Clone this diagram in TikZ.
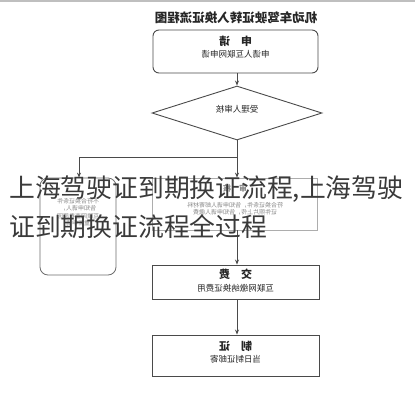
\documentclass[tikz,border=0pt]{standalone}
\usepackage{fontspec}
\newfontfamily\cjk{Noto Sans CJK SC}
\usetikzlibrary{arrows.meta,shapes.geometric}
\definecolor{linegray}{HTML}{4A4A4A}
\definecolor{fadegray}{HTML}{8A8A8A}
\definecolor{overlay}{HTML}{3A3A3A}
\begin{document}
\begin{tikzpicture}[x=1pt,y=-1pt,
  boxline/.style={draw=linegray, line width=0.9pt},
  flowbox/.style={boxline, inner sep=0pt},
  fadebox/.style={draw=fadegray!70, line width=0.8pt, inner sep=0pt},
  mtext/.style={xscale=-1, inner sep=0pt, text=black!85},
  ttl/.style={mtext, font=\cjk\fontsize{11}{12}\selectfont\bfseries},
  sub/.style={mtext, font=\cjk\fontsize{8.5}{10}\selectfont},
  faint/.style={mtext, text=fadegray, font=\cjk\fontsize{6}{7.5}\selectfont, align=center},
  conn/.style={draw=linegray, line width=0.8pt},
  arr/.style={conn, -{Stealth[length=5pt,width=4pt]}},
  big/.style={inner sep=0pt, anchor=west, text=overlay, font=\cjk\fontsize{25.8}{30}\selectfont}
]
\useasboundingbox (0,0) rectangle (415,400);
\fill[white] (0,0) rectangle (415,400);
\fill[black!25] (0,0) rectangle (415,2);

% title
\node[mtext, font=\cjk\fontsize{12.5}{14}\selectfont\bfseries] (title) at (236,18) {机动车驾驶证转入换证流程图};

% box 1
\node[flowbox, rounded corners=6pt, minimum width=165pt, minimum height=43pt] (b1) at (235.5,51.5) {};
\node[ttl] (b1t) at (235.5,41) {申\quad 请};
\node[sub] (b1s) at (235.5,54) {申请人互联网申请};

% diamond
\node[flowbox, diamond, aspect=3.15, minimum width=170pt, minimum height=54pt] (d) at (237,113) {};
\node[sub] (dt) at (237,109) {受理人审核};

% junction
\coordinate (j) at (237,157);
\coordinate (jl) at (79,157);

% left box
\node[fadebox, draw=linegray!80, rounded corners=8pt, minimum width=76pt, minimum height=97pt] (lb) at (78,226.5) {};
\node[faint] (lbt) at (78,212) {不符合换证条件\\告知申请人，\\互联网查看原因\\重新申请};

% middle box
\node[fadebox, minimum width=165pt, minimum height=52pt] (mb) at (235,204) {};
\node[faint, font=\cjk\fontsize{8}{9}\selectfont\bfseries] (mbt) at (235,188) {审\quad 核};
\node[faint] (mbs) at (235,209) {符合换证条件，告知申请人邮寄材料\\证件照片上传，告知申请人缴费};

% box 3
\node[flowbox, minimum width=167pt, minimum height=34pt] (b3) at (235.5,282) {};
\node[ttl] (b3t) at (235.5,274) {交\quad 费};
\node[sub] (b3s) at (235.5,288) {互联网缴纳换证费用};

% box 4
\node[flowbox, minimum width=167pt, minimum height=41pt] (b4) at (235.5,355.5) {};
\node[ttl] (b4t) at (235.5,346) {制\quad 证};
\node[sub] (b4s) at (235.5,359) {当日制证邮寄};

% connectors
\draw[arr] (b1.south -| d.north) -- (d.north);
\draw[conn] (d.south) -- (j);
\draw[arr] (j) -- (j |- mb.north);
\draw[conn] (j) -- (jl);
\draw[arr] (jl) -- (jl |- lb.north);
\draw[arr] (mb.south -| j) -- (b3.north -| j);
\draw[arr] (b3.south -| j) -- (b4.north -| j);

% overlay caption
\node[big] (cap1) at (9,189) {上海驾驶证到期换证流程,上海驾驶};
\node[big] (cap2) at (9,227) {证到期换证流程全过程};
\end{tikzpicture}
\end{document}
